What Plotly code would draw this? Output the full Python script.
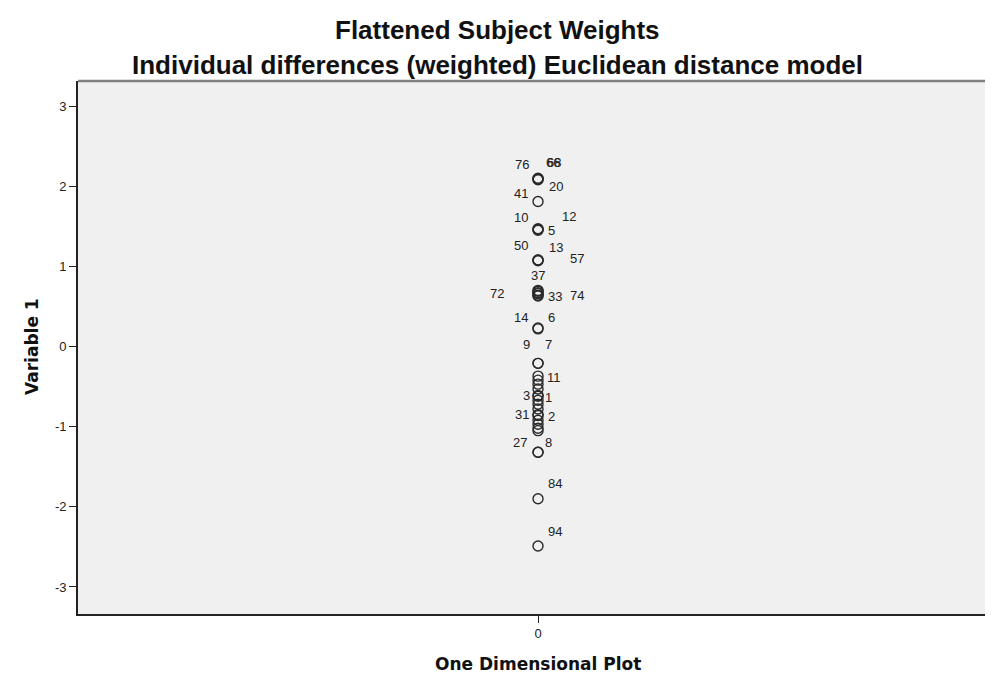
import plotly.graph_objects as go

# Subject labels ("" = unlabelled point) and their coordinate on dimension 1
subjects = ["76", "68", "66", "20", "41", "10", "12", "5", "50", "13", "57",
            "37", "72", "33", "74", "14", "6", "9", "7", "11", "3", "1",
            "31", "2", "27", "8", "84", "94",
            "", "", "", "", "", "", "", "", "", "", "", ""]
variable1 = [2.09, 2.09, 2.10, 2.08, 1.81, 1.47, 1.46, 1.45, 1.08, 1.07, 1.08,
             0.70, 0.69, 0.66, 0.63, 0.23, 0.22, -0.21, -0.21, -0.42, -0.61, -0.62,
             -0.85, -0.86, -1.32, -1.32, -1.90, -2.49,
             -0.37, -0.47, -0.53, -0.67, -0.72, -0.78, -0.92, -0.97, -1.02, -1.05,
             0.64, 0.67]
dimension = [0] * len(variable1)

y_ticks = [-3, -2, -1, 0, 1, 2, 3]
y_tick_labels = ["-3", "-2", "-1", "0", "1", "2", "3"]
x_ticks = [0]
x_tick_labels = ["0"]

title_text = "Flattened Subject Weights"
subtitle_text = "Individual differences (weighted) Euclidean distance model"
x_title = "One Dimensional Plot"
y_title = "Variable 1"

# label placement offsets in pixels (style only)
label_offsets = {
    "76": (-16, -14), "68": (16, -16), "66": (15, -16), "20": (18, 7),
    "41": (-17, -8), "10": (-17, -11), "12": (31, -13), "5": (13, 0),
    "50": (-17, -14), "13": (18, -13), "57": (39, -1), "37": (0, -15),
    "72": (-41, 2), "33": (17, 3), "74": (39, -1), "14": (-17, -11),
    "6": (13, -11), "9": (-12, -19), "7": (10, -19), "11": (16, -3),
    "3": (-12, 0), "1": (10, 1), "31": (-16, 0), "2": (13, 1),
    "27": (-18, -10), "8": (10, -10), "84": (17, -15), "94": (17, -15),
}

# page body has an 8px margin; figure is sized to fill the rest of the window
OFF = 8
W, H = 993 - OFF, 681 - OFF
ML, MR, MT, MB = 78 - OFF, 0, 81 - OFF, 67
label_font = dict(family="Liberation Sans, Arial", size=13, color="#222222")
title_font = dict(family="Liberation Sans, Arial", size=26, color="#111111")
axis_title_font = dict(family="DejaVu Sans, Verdana", size=17, color="#111111")

fig = go.Figure()
fig.add_trace(go.Scatter(
    x=dimension, y=variable1, mode="markers",
    marker=dict(symbol="circle-open", size=10, color="#2a2a2a",
                line=dict(width=1.4, color="#2a2a2a")),
    hoverinfo="text", text=subjects, showlegend=False,
))

for s, v in zip(subjects, variable1):
    if not s:
        continue
    dx, dy = label_offsets.get(s, (14, -12))
    fig.add_annotation(x=0, y=v, text=s, showarrow=False, xshift=dx, yshift=-dy,
                       font=label_font)

def px_x(px):
    return (px - OFF - ML) / (W - ML - MR)

def px_y(py):
    return (H - MB - (py - OFF)) / (H - MT - MB)

fig.add_annotation(text="<b>%s</b>" % title_text, xref="paper", yref="paper",
                   x=px_x(497), y=px_y(30), xanchor="center", yanchor="middle",
                   showarrow=False, font=title_font)
fig.add_annotation(text="<b>%s</b>" % subtitle_text, xref="paper", yref="paper",
                   x=px_x(497), y=px_y(65), xanchor="center", yanchor="middle",
                   showarrow=False, font=title_font)
fig.add_annotation(text="<b>%s</b>" % x_title, xref="paper", yref="paper",
                   x=px_x(538), y=px_y(664), xanchor="center", yanchor="middle",
                   showarrow=False, font=axis_title_font)
fig.add_annotation(text="<b>%s</b>" % y_title, xref="paper", yref="paper",
                   x=px_x(32), y=px_y(347), xanchor="center", yanchor="middle",
                   textangle=-90, showarrow=False, font=axis_title_font)

fig.update_layout(
    width=W, height=H,
    margin=dict(l=ML, r=MR, t=MT, b=MB, autoexpand=False),
    paper_bgcolor="white", plot_bgcolor="#f0f0f0",
    font=dict(family="Liberation Sans, Arial", color="#222222"),
    xaxis=dict(range=[-1.0, 0.989], tickvals=x_ticks, ticktext=x_tick_labels,
               ticks="outside", ticklen=7, tickwidth=1.3,
               tickcolor="#222222", showgrid=False, zeroline=False, automargin=False,
               showline=True, linecolor="#222222", linewidth=1.6, mirror=False,
               tickfont=dict(size=13, color="#222222")),
    yaxis=dict(range=[-3.3375, 3.3125], tickvals=y_ticks, ticktext=y_tick_labels,
               ticks="outside", ticklen=7, tickwidth=1.3,
               tickcolor="#222222", showgrid=False, zeroline=False, automargin=False,
               showline=True, linecolor="#222222", linewidth=1.6,
               tickfont=dict(size=13, color="#222222")),
    shapes=[dict(type="line", xref="paper", yref="paper", x0=0, x1=1, y0=1, y1=1,
                 line=dict(color="#808080", width=2.5))],
)

fig.write_html("out.html")
